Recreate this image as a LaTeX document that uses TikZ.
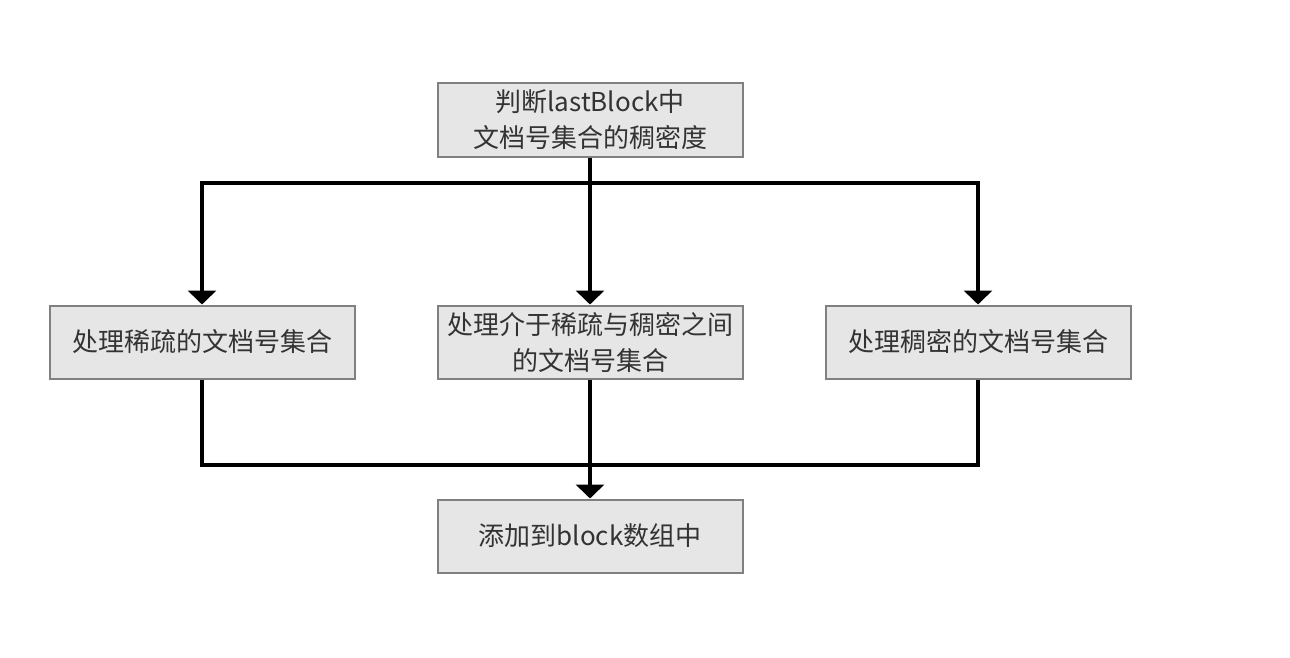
\documentclass[tikz,border=0pt]{standalone}
\usepackage{fontspec}
\setmainfont{Noto Sans CJK SC}
\usetikzlibrary{arrows.meta}
\definecolor{boxfill}{HTML}{E6E6E6}
\definecolor{boxdraw}{HTML}{808080}
\definecolor{txt}{HTML}{333333}
\tikzset{
  box/.style={draw=boxdraw, line width=2pt, fill=boxfill, minimum width=305pt, minimum height=73pt,
    inner sep=0pt, align=center, text=txt, font=\fontsize{26}{36}\selectfont},
  conn/.style={line width=3.5pt, draw=black},
  arr/.style={conn, -{Triangle[width=28pt,length=14pt]}}
}
\begin{document}
\begin{tikzpicture}[x=1pt,y=-1pt]
\useasboundingbox (0,0) rectangle (1290,658);
\node[box] (top) at (590,120) {判断lastBlock中\\文档号集合的稠密度};
\node[box] (left) at (202,342) {处理稀疏的文档号集合};
\node[box] (mid) at (590,342) {处理介于稀疏与稠密之间\\的文档号集合};
\node[box] (right) at (978,342) {处理稠密的文档号集合};
\node[box] (bot) at (590,536) {添加到block数组中};
\coordinate (split) at (590,183);
\coordinate (join) at (590,465);
\draw[conn] (top.south) -- (split);
\draw[arr] (split) -| (left.north);
\draw[arr] (split) -| (right.north);
\draw[arr] (split) -- (mid.north);
\draw[conn] (left.south) |- (join);
\draw[conn] (right.south) |- (join);
\draw[arr] (mid.south) -- (bot.north);
\end{tikzpicture}
\end{document}
